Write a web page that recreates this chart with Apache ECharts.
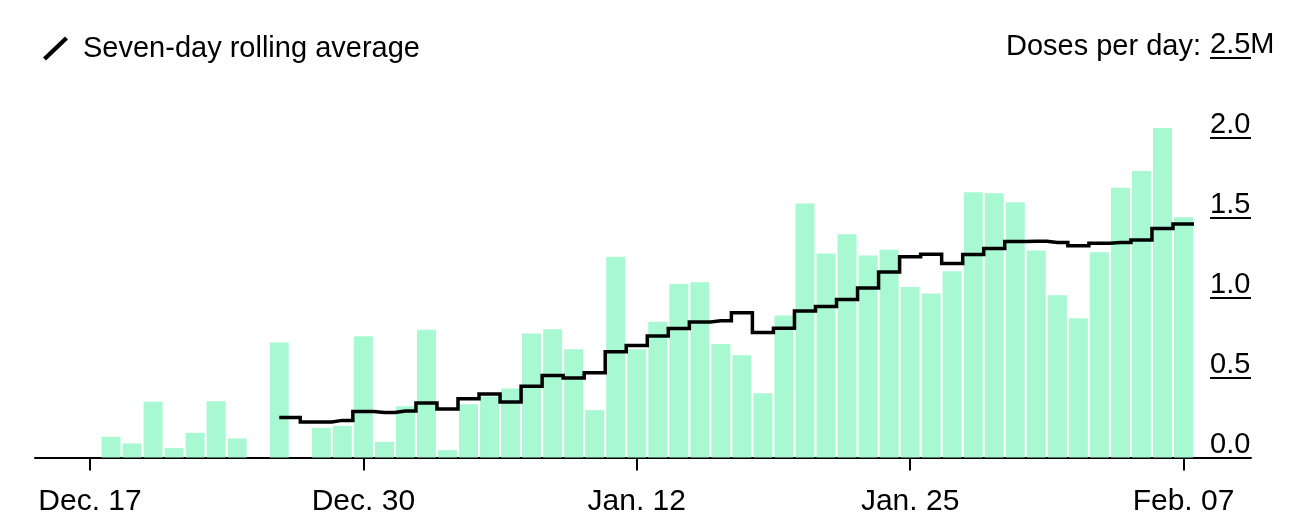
<!DOCTYPE html>
<html>
<head>
<meta charset="utf-8">
<script src="https://cdn.jsdelivr.net/npm/echarts@6/dist/echarts.min.js"></script>
<style>
html,body{margin:0;padding:0;background:#fff;}
#chart{width:1292px;height:527px;}
</style>
</head>
<body>
<div id="chart"></div>
<script>
// Day index 0 = Dec. 17
const tickDays = [0, 13, 26, 39, 52];
const tickLabels = ['Dec. 17', 'Dec. 30', 'Jan. 12', 'Jan. 25', 'Feb. 07'];
const yTicks = [0, 0.5, 1.0, 1.5, 2.0, 2.5];

// Daily doses (millions), Dec. 17 .. Feb. 07
const dailyDoses = [
  null, 0.130, 0.088, 0.348, 0.060, 0.154, 0.352, 0.119, null, 0.719,
  null, 0.185, 0.198, 0.758, 0.098, 0.320, 0.798, 0.046, 0.333, 0.381,
  0.431, 0.775, 0.802, 0.677, 0.296, 1.254, 0.677, 0.848, 1.085, 1.096,
  0.710, 0.639, 0.402, 0.888, 1.587, 1.275, 1.396, 1.263, 1.298, 1.066,
  1.025, 1.164, 1.658, 1.652, 1.596, 1.294, 1.014, 0.871, 1.283, 1.686,
  1.791, 2.060, 1.502
];

// Seven-day rolling average (millions), Dec. 17 .. Feb. 07
const rollingAvg = [
  null, null, null, null, null, null, null, null, null, 0.250,
  null, 0.2225, 0.232, 0.287, 0.282, 0.291, 0.340, 0.303, 0.367, 0.397,
  0.3475, 0.446, 0.512, 0.4975, 0.530, 0.661, 0.700, 0.760, 0.806, 0.8475,
  0.854, 0.904, 0.781, 0.808, 0.916, 0.943, 0.9875, 1.060, 1.160, 1.254,
  1.270, 1.2125, 1.269, 1.306, 1.350, 1.352, 1.344, 1.324, 1.339, 1.344,
  1.360, 1.431, 1.459
];

const FONT = '"Liberation Sans", Arial, Helvetica, sans-serif';

const barData = dailyDoses.map((v, i) => [i, v]).filter(d => d[1] !== null);
const lineData = rollingAvg.map((v, i) => [i, v]).filter(d => d[1] !== null);
// extend the last step to the end of its day
const lastPt = lineData[lineData.length - 1];
lineData.push([lastPt[0] + 0.5, lastPt[1]]);

const chart = echarts.init(document.getElementById('chart'), null, {renderer: 'canvas'});
chart.setOption({
  animation: false,
  backgroundColor: '#fff',
  textStyle: {fontFamily: FONT, color: '#000'},
  title: {
    text: 'Doses per day:',
    right: 91, top: 32, padding: 0,
    textStyle: {fontFamily: FONT, fontSize: 29, fontWeight: 'normal', color: '#000'}
  },
  legend: {
    left: 43, top: 34, padding: 0,
    itemWidth: 25, itemHeight: 24,
    icon: 'path://M0,21 L22,0 L25,3 L3,24 Z',
    data: ['Seven-day rolling average'],
    selectedMode: false,
    textStyle: {fontFamily: FONT, fontSize: 29, color: '#000', padding: [0, 0, 0, 10]}
  },
  grid: [
    {left: 35, right: 41, top: 57.5, bottom: 69.5},
    {left: 1210, right: 41, top: 57.5, bottom: 69.5}
  ],
  xAxis: [
    {
      type: 'value', gridIndex: 0,
      min: -2.615, max: 55.21,
      splitLine: {show: false},
      axisLine: {show: true, onZero: true, lineStyle: {color: '#000', width: 2}},
      axisTick: {show: true, customValues: tickDays, length: 13, lineStyle: {color: '#000', width: 2}},
      axisLabel: {
        show: true, customValues: tickDays, margin: 29,
        fontFamily: FONT, fontSize: 30, color: '#000',
        formatter: v => tickLabels[tickDays.indexOf(Math.round(v))] || ''
      }
    },
    {
      type: 'value', gridIndex: 1, min: 0, max: 1, show: false
    }
  ],
  yAxis: [
    {
      type: 'value', gridIndex: 0, position: 'right',
      min: 0, max: 2.5, interval: 0.5,
      splitLine: {show: false},
      axisLine: {show: false}, axisTick: {show: false},
      axisLabel: {
        inside: true, margin: 41, align: 'left', verticalAlign: 'bottom',
        fontFamily: FONT, fontSize: 29, color: '#000', padding: [0, 0, -2, 0],
        formatter: v => (Math.abs(v - 2.5) < 1e-6 ? '2.5M' : v.toFixed(1))
      }
    },
    {
      type: 'value', gridIndex: 1,
      min: 0, max: 2.5, interval: 0.5,
      axisLine: {show: false}, axisTick: {show: false}, axisLabel: {show: false},
      splitLine: {show: true, lineStyle: {color: '#000', width: 2}}
    }
  ],
  series: [
    {
      name: 'Daily doses',
      type: 'bar', xAxisIndex: 0, yAxisIndex: 0,
      data: barData,
      barWidth: 19,
      itemStyle: {color: '#a8f9d2'},
      z: 2
    },
    {
      name: 'Seven-day rolling average',
      type: 'line', xAxisIndex: 0, yAxisIndex: 0,
      data: lineData,
      step: 'middle',
      showSymbol: false, symbol: 'none',
      lineStyle: {color: '#000', width: 3.5, join: 'miter'},
      itemStyle: {color: '#000'},
      z: 3
    }
  ]
});
</script>
</body>
</html>
